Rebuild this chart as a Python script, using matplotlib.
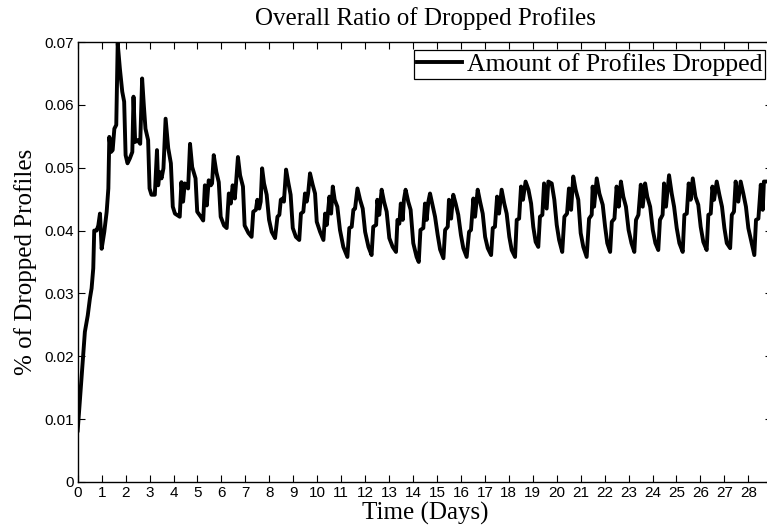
#!/usr/bin/env python3
"""
plot.py - overall ratio of dropped profiles over the simulation run
"""

import matplotlib
matplotlib.use("Agg")
import matplotlib.pyplot as plt

# sampled ratio of dropped profiles (time in days)
days = [
    0.0, 0.3, 0.42, 0.51, 0.58, 0.65, 0.69, 0.79, 0.86, 0.93,
    1.0, 1.11, 1.21, 1.28, 1.32, 1.39, 1.46, 1.53, 1.61, 1.67,
    1.76, 1.86, 1.94, 2.0, 2.08, 2.18, 2.28, 2.33, 2.4, 2.5,
    2.61, 2.69, 2.76, 2.83, 2.94, 3.0, 3.08, 3.22, 3.31, 3.36,
    3.43, 3.5, 3.58, 3.67, 3.78, 3.89, 3.97, 4.06, 4.26, 4.33,
    4.4, 4.47, 4.61, 4.69, 4.78, 4.92, 4.99, 5.14, 5.24, 5.31,
    5.39, 5.47, 5.56, 5.61, 5.68, 5.79, 5.89, 5.97, 6.11, 6.22,
    6.31, 6.39, 6.47, 6.56, 6.61, 6.69, 6.78, 6.9, 6.97,
    7.13, 7.26, 7.33, 7.44, 7.5, 7.58, 7.64, 7.7, 7.78, 7.89,
    7.99, 8.1, 8.24, 8.34, 8.42, 8.48, 8.56, 8.61, 8.7, 8.8,
    8.89, 8.98, 9.11, 9.25, 9.32, 9.42, 9.49, 9.56, 9.62, 9.7,
    9.81, 9.91, 9.98, 10.12, 10.26, 10.33, 10.4, 10.51, 10.58, 10.65,
    10.73, 10.84, 10.95, 11.09, 11.26, 11.34, 11.44, 11.51, 11.58, 11.68,
    11.79, 11.9, 12.0, 12.14, 12.27, 12.34, 12.46, 12.51, 12.59, 12.69,
    12.79, 12.9, 13.01, 13.15, 13.29, 13.35, 13.43, 13.49, 13.57, 13.62,
    13.69, 13.8, 13.9, 14.01, 14.15, 14.24,
    14.31, 14.43, 14.5, 14.57, 14.64, 14.71, 14.81, 14.92, 15.03, 15.13,
    15.27, 15.34, 15.45, 15.5, 15.59, 15.68, 15.78, 15.89, 16.0, 16.1,
    16.24, 16.34, 16.42, 16.52, 16.59, 16.7, 16.8, 16.91, 17.01, 17.12,
    17.26, 17.33, 17.42, 17.51, 17.59, 17.7, 17.81, 17.91, 18.02, 18.12,
    18.26, 18.33, 18.43, 18.51, 18.59, 18.7, 18.82, 18.93, 19.02, 19.12,
    19.23, 19.3, 19.4, 19.47, 19.58, 19.65, 19.79, 19.9, 20.0, 20.1,
    20.23, 20.32, 20.43, 20.51, 20.6, 20.69, 20.79, 20.9, 21.0, 21.11,
    21.25, 21.35, 21.46, 21.5,
    21.56, 21.67, 21.78, 21.92, 22.02, 22.11, 22.23, 22.3, 22.41, 22.5,
    22.59, 22.68, 22.78, 22.89, 23.0, 23.12, 23.24, 23.31, 23.41, 23.51,
    23.59, 23.69, 23.78, 23.9, 24.01, 24.12, 24.24, 24.31, 24.42, 24.48,
    24.56, 24.69, 24.8, 24.9, 25.01, 25.12, 25.26, 25.33, 25.43, 25.51,
    25.59, 25.68, 25.79, 25.91, 26.01, 26.12, 26.26, 26.33, 26.43, 26.5,
    26.57, 26.68, 26.79, 26.9, 27.0, 27.1, 27.24, 27.31, 27.4, 27.47,
    27.58, 27.68, 27.79, 27.9, 28.0, 28.11, 28.25, 28.32, 28.42, 28.52,
    28.6, 28.65, 28.78, 28.95,
]

dropped = [
    0.0082, 0.0239, 0.0265, 0.0292, 0.0308, 0.034, 0.040, 0.040, 0.0408, 0.0427,
    0.0371, 0.0398, 0.043, 0.0467, 0.0549, 0.0525, 0.0528, 0.0562, 0.0568, 0.0698,
    0.0658, 0.0621, 0.0605, 0.052, 0.0507, 0.0515, 0.0525, 0.0613, 0.0541, 0.0544,
    0.0538, 0.0642, 0.060, 0.0562, 0.0544, 0.0467, 0.0457, 0.0457, 0.0528, 0.0472,
    0.0493, 0.0483, 0.0499, 0.0578, 0.0531, 0.0507, 0.0438, 0.0427, 0.0422, 0.0477,
    0.0446, 0.0475, 0.0467, 0.0538, 0.0501, 0.0483, 0.043, 0.0422, 0.0416, 0.0472,
    0.044, 0.048, 0.0472, 0.0475, 0.052, 0.0493, 0.0477, 0.0422, 0.0408, 0.0404,
    0.0459, 0.0443, 0.0472, 0.0451, 0.0475, 0.0517, 0.0488, 0.047, 0.0408,
    0.0396, 0.039, 0.043, 0.0433, 0.0449, 0.0435, 0.0446, 0.0499, 0.0475, 0.0457,
    0.0417, 0.0398, 0.0388, 0.0422, 0.0425, 0.0449, 0.0451, 0.0446, 0.0497, 0.0475,
    0.0457, 0.0404, 0.039, 0.0385, 0.0427, 0.043, 0.0459, 0.0446, 0.0459, 0.0491,
    0.0473, 0.0459, 0.0414, 0.0398, 0.0385, 0.0427, 0.0409, 0.0454, 0.0427, 0.047,
    0.0449, 0.0438, 0.0401, 0.0374, 0.0358, 0.0404, 0.0406, 0.0433, 0.0435, 0.0467,
    0.0449, 0.0435, 0.0398, 0.0374, 0.0361, 0.0406, 0.0409, 0.0449, 0.0425, 0.0465,
    0.0446, 0.043, 0.0388, 0.0374, 0.0366, 0.0417, 0.0411, 0.0443, 0.0417, 0.0449,
    0.0465, 0.0446, 0.0433, 0.038, 0.0358, 0.035,
    0.0401, 0.0404, 0.0443, 0.0417, 0.0446, 0.0459, 0.0441, 0.0422, 0.0393, 0.037,
    0.0356, 0.0401, 0.0406, 0.0449, 0.0419, 0.0457, 0.0443, 0.0425, 0.0393, 0.0372,
    0.0358, 0.0398, 0.0401, 0.0451, 0.0422, 0.0465, 0.0446, 0.0427, 0.039, 0.0372,
    0.0361, 0.0404, 0.0406, 0.0454, 0.0427, 0.0465, 0.0443, 0.0427, 0.039, 0.0369,
    0.0358, 0.0417, 0.0419, 0.047, 0.0449, 0.0478, 0.0465, 0.0443, 0.0406, 0.0382,
    0.0374, 0.0422, 0.0425, 0.0475, 0.0435, 0.0478, 0.0475, 0.0449, 0.0409, 0.0385,
    0.0366, 0.0422, 0.0427, 0.0467, 0.0433, 0.0486, 0.0465, 0.0449, 0.0396, 0.0374,
    0.0358, 0.0419, 0.0425, 0.047,
    0.0438, 0.0483, 0.0459, 0.0441, 0.0406, 0.038, 0.0366, 0.0414, 0.0419, 0.047,
    0.0438, 0.0478, 0.0454, 0.0438, 0.0401, 0.038, 0.0366, 0.0417, 0.0425, 0.0473,
    0.0438, 0.0475, 0.0454, 0.0438, 0.0401, 0.038, 0.0369, 0.0417, 0.0425, 0.0475,
    0.0438, 0.0488, 0.0459, 0.0438, 0.0404, 0.038, 0.0366, 0.0425, 0.0427, 0.0475,
    0.0449, 0.0483, 0.0454, 0.0441, 0.0406, 0.0382, 0.0369, 0.0425, 0.0427, 0.047,
    0.0449, 0.0478, 0.0457, 0.0438, 0.0404, 0.038, 0.0372, 0.0425, 0.043, 0.0478,
    0.0446, 0.0478, 0.0459, 0.0438, 0.0404, 0.0385, 0.0361, 0.0417, 0.0419, 0.0473,
    0.0433, 0.0478, 0.0478, 0.0478,
]

x_ticks = list(range(0, 29))
y_ticks = [0, 0.01, 0.02, 0.03, 0.04, 0.05, 0.06, 0.07]
y_tick_labels = ["0", "0.01", "0.02", "0.03", "0.04", "0.05", "0.06", "0.07"]

serif = ["Liberation Serif", "DejaVu Serif"]
plt.rcParams["font.family"] = ["Liberation Sans", "DejaVu Sans"]

fig = plt.figure(figsize=(7.67, 5.31), dpi=100)
# axes runs a bit past the right border of the figure
ax = fig.add_axes([0.1013, 0.0923, 0.9056, 0.8286])

ax.plot(days, dropped, color="black", linewidth=2.8, label="Amount of Profiles Dropped")

ax.set_xlim(0, 29)
ax.set_ylim(0, 0.07)
ax.set_xticks(x_ticks)
ax.set_yticks(y_ticks)
ax.set_yticklabels(y_tick_labels)
ax.tick_params(direction="in", length=5, width=0.8, top=True, right=True,
               labelsize=11, pad=3)
for sp in ax.spines.values():
    sp.set_linewidth(1.0)

ax.set_title("Overall Ratio of Dropped Profiles", family=serif, fontsize=18, pad=12)
ax.set_xlabel("Time (Days)", family=serif, fontsize=18, labelpad=1)
ax.set_ylabel("% of Dropped Profiles", family=serif, fontsize=18, labelpad=5)

leg = ax.legend(loc="upper right", bbox_to_anchor=(0.99, 0.982), fancybox=False,
                framealpha=1, edgecolor="black", handlelength=1.75,
                handletextpad=0.2, borderpad=0.12, borderaxespad=0,
                prop={"family": serif, "size": 18.5})
leg.get_frame().set_linewidth(0.9)

plt.savefig("out.png", dpi=100)
